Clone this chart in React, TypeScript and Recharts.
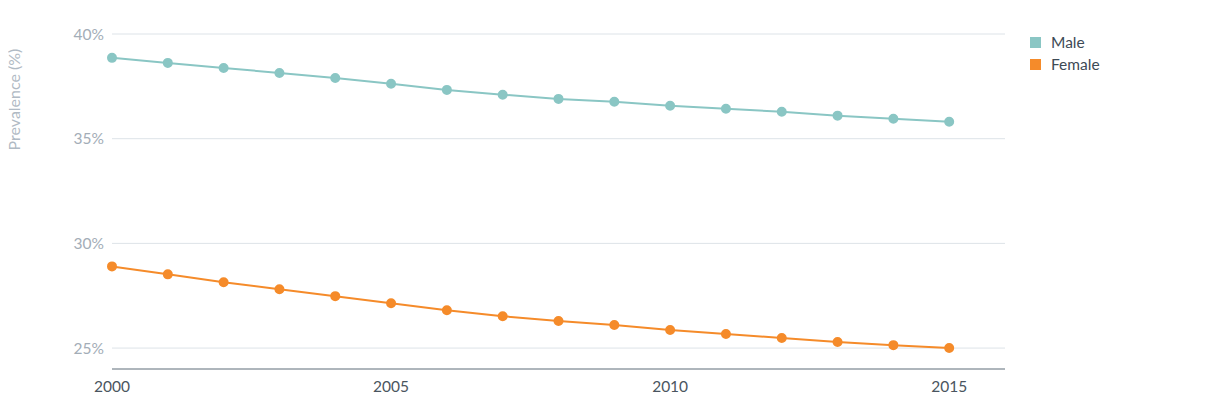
import { LineChart, Line, XAxis, YAxis, CartesianGrid, Legend } from "recharts";

const YEARS = [2000, 2001, 2002, 2003, 2004, 2005, 2006, 2007, 2008, 2009, 2010, 2011, 2012, 2013, 2014, 2015];
const MALE = [38.86, 38.62, 38.38, 38.14, 37.9, 37.62, 37.33, 37.1, 36.9, 36.76, 36.57, 36.43, 36.29, 36.1, 35.95, 35.81];
const FEMALE = [28.9, 28.52, 28.14, 27.81, 27.48, 27.14, 26.81, 26.52, 26.29, 26.1, 25.86, 25.67, 25.48, 25.29, 25.14, 25.0];
const X_TICKS = [2000, 2005, 2010, 2015];
const Y_TICKS = [25, 30, 35, 40];

const MALE_COLOR = "#8ac6c4";
const FEMALE_COLOR = "#f58b2a";

const data = YEARS.map((year, i) => ({ year, Male: MALE[i], Female: FEMALE[i] }));

function LegendBox() {
  const items = [
    { name: "Male", color: MALE_COLOR },
    { name: "Female", color: FEMALE_COLOR },
  ];
  return (
    <div>
      {items.map((it) => (
        <div key={it.name} style={{ display: "flex", alignItems: "center", height: 22, color: "#3d4a55", fontSize: 15.5 }}>
          <span style={{ width: 11, height: 11, background: it.color, marginRight: 10, display: "inline-block" }} />
          {it.name}
        </div>
      ))}
    </div>
  );
}

export default function App() {
  return (
    <div style={{ position: "relative", fontFamily: "Lato, 'Open Sans', sans-serif" }}>
      <div
        style={{
          position: "absolute",
          left: -55,
          top: 82,
          width: 120,
          transform: "rotate(-90deg)",
          color: "#b0bac4",
          fontSize: 16,
          textAlign: "center",
          whiteSpace: "nowrap",
        }}
      >
        Prevalence (%)
      </div>
      <LineChart width={1214} height={395} data={data} margin={{ top: 26, right: 67, bottom: 4, left: 0 }}>
        <CartesianGrid vertical={false} stroke="#dde3e8" />
        <XAxis
          dataKey="year"
          type="number"
          domain={[2000, 2016]}
          ticks={X_TICKS}
          height={30}
          tickLine={false}
          stroke="#6f7a84"
          tick={{ fill: "#4a5560", fontSize: 15.5 }}
          tickMargin={6}
        />
        <YAxis
          domain={[24, 40]}
          ticks={Y_TICKS}
          width={104}
          axisLine={false}
          tickLine={false}
          tickSize={0}
          tickMargin={8}
          tickFormatter={(v) => `${v}%`}
          tick={{ fill: "#a3adb7", fontSize: 15.5 }}
        />
        <Legend
          layout="vertical"
          align="right"
          verticalAlign="top"
          content={() => <LegendBox />}
          wrapperStyle={{ left: 1022, top: 23, width: 150 }}
        />
        <Line dataKey="Male" stroke={MALE_COLOR} strokeWidth={2} dot={{ r: 4, fill: MALE_COLOR, stroke: MALE_COLOR }} isAnimationActive={false} />
        <Line dataKey="Female" stroke={FEMALE_COLOR} strokeWidth={2} dot={{ r: 4, fill: FEMALE_COLOR, stroke: FEMALE_COLOR }} isAnimationActive={false} />
      </LineChart>
    </div>
  );
}
